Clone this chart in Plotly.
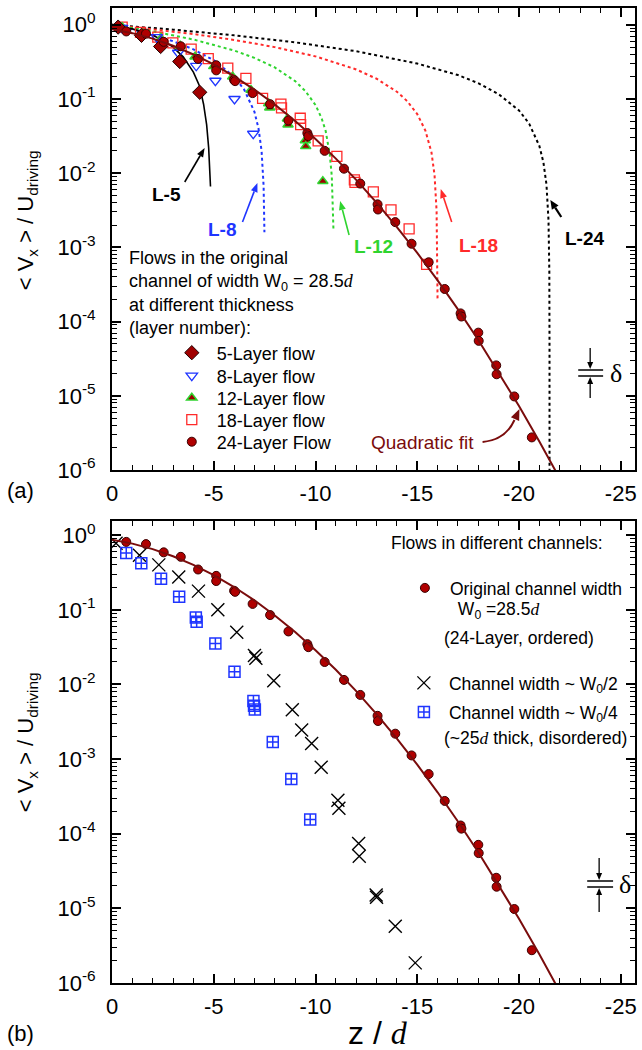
import math
import plotly.graph_objects as go

# ------------------------- data -------------------------
# 24-layer flow, original channel (same points in both panels)
z24 = [-0.70, -1.67, -2.54, -3.38, -4.23, -5.12, -5.12, -6.00, -6.05, -6.91, -7.77, -8.67,
       -9.60, -9.65, -10.45, -11.40, -12.20, -13.05, -13.07, -13.92, -14.72, -15.56, -16.35,
       -17.13, -17.17, -18.00, -18.02, -18.88, -18.90, -19.77, -20.63]
v24 = [0.813, 0.759, 0.589, 0.513, 0.347, 0.285, 0.243, 0.180, 0.174, 0.120, 0.0851, 0.0513,
       0.0347, 0.0316, 0.0200, 0.0115, 0.00724, 0.00380, 0.00324, 0.00219, 0.00112, 6.3e-4,
       2.75e-4, 1.29e-4, 1.17e-4, 7.1e-5, 5.5e-5, 2.57e-5, 1.95e-5, 9.8e-6, 2.75e-6]

# quadratic fit curve (sampled along the drawn line)
z_fit = [0, -1, -2, -3, -4, -5, -6, -7, -8, -9, -10, -11, -12, -13, -14, -15, -16, -17, -18,
         -19, -20, -21, -22]
v_fit = [0.871, 0.771, 0.650, 0.522, 0.400, 0.292, 0.202, 0.134, 0.0841, 0.0505, 0.0288,
         0.0157, 0.00813, 0.00401, 0.00188, 8.43e-4, 3.59e-4, 1.46e-4, 5.64e-5, 2.07e-5,
         7.28e-6, 2.43e-6, 7.7e-7]

# 5-layer flow
z5 = [-0.30, -1.45, -2.39, -3.33, -4.31]
v5 = [0.93, 0.72, 0.51, 0.32, 0.123]
# 8-layer flow
z8 = [-0.50, -2.20, -3.25, -4.14, -5.08, -6.02, -6.94]
v8 = [0.91, 0.68, 0.42, 0.28, 0.176, 0.100, 0.034]
# 12-layer flow
z12 = [-0.50, -1.45, -2.40, -3.35, -4.08, -5.00, -5.93, -6.83, -7.70, -7.75, -8.62, -8.65,
       -9.50, -9.52, -10.36]
v12 = [0.93, 0.76, 0.65, 0.52, 0.37, 0.275, 0.20, 0.132, 0.087, 0.076, 0.054, 0.045,
       0.0275, 0.023, 0.0078]
# 18-layer flow
z18 = [-0.50, -1.40, -2.25, -2.99, -3.89, -4.73, -5.69, -6.58, -7.40, -8.30, -8.33, -9.25,
       -9.27, -10.13, -11.05, -11.91, -11.94, -12.84, -13.71, -14.60, -15.46]
v18 = [0.93, 0.79, 0.68, 0.57, 0.47, 0.35, 0.26, 0.19, 0.102, 0.085, 0.076, 0.055, 0.045,
       0.0272, 0.0168, 0.0081, 0.0075, 0.0056, 0.0032, 0.00178, 0.00059]

# model curves L-5 ... L-24
zL5 = [0, -1, -2, -2.5, -3, -3.5, -4, -4.3, -4.5, -4.65, -4.75, -4.8, -4.84]
vL5 = [0.95, 0.88, 0.72, 0.62, 0.50, 0.37, 0.23, 0.15, 0.085, 0.045, 0.022, 0.011, 0.0066]
zL8 = [0, -1, -2, -3, -4, -5, -6, -6.5, -7, -7.2, -7.35, -7.45, -7.49]
vL8 = [1.0, 0.867, 0.733, 0.60, 0.467, 0.333, 0.20, 0.133, 0.067, 0.04, 0.02, 0.0067, 0.0016]
zL12 = [0, -2, -4, -6, -7, -8, -9, -9.5, -10, -10.3, -10.5, -10.7, -10.8, -10.88]
vL12 = [1.0, 0.817, 0.633, 0.450, 0.358, 0.266, 0.174, 0.128, 0.083, 0.055, 0.037, 0.018,
        0.0092, 0.0018]
zL18 = [0, -2, -4, -6, -8, -10, -12, -13, -14, -14.5, -15, -15.4, -15.7, -15.85, -15.95,
        -15.997]
vL18 = [1.0, 0.875, 0.75, 0.625, 0.5, 0.375, 0.25, 0.1875, 0.125, 0.094, 0.0625, 0.0375,
        0.019, 0.0094, 0.0031, 0.0002]
zL24 = [0, -3, -6, -9, -12, -15, -17, -18, -19, -20, -20.5, -21, -21.2, -21.35, -21.45,
        -21.49, -21.499, -21.4999, -21.49999]
vL24 = [1.0, 0.86, 0.72, 0.58, 0.44, 0.30, 0.21, 0.163, 0.116, 0.070, 0.0465, 0.0233, 0.014,
        0.007, 0.0023, 4.7e-4, 4.7e-5, 4.7e-6, 5e-7]

# channel width ~ W0/2 (crosses)
z_half = [-0.20, -1.35, -2.30, -3.28, -4.25, -5.20, -6.13, -7.00, -7.07, -7.95, -8.86, -9.32,
          -9.81, -10.28, -11.10, -11.15, -12.12, -12.15, -12.98, -13.00, -13.92, -14.90]
v_half = [0.78, 0.54, 0.40, 0.275, 0.178, 0.100, 0.050, 0.0245, 0.0224, 0.0112, 0.00457,
          0.00245, 0.00162, 0.00078, 0.00028, 0.00022, 7.4e-5, 5.0e-5, 1.51e-5, 1.41e-5,
          5.75e-6, 1.86e-6]
# channel width ~ W0/4 (boxed crosses)
z_quart = [-0.70, -1.44, -2.41, -3.30, -4.12, -4.16, -5.08, -6.02, -6.95, -6.98, -7.02,
           -7.90, -8.81, -9.74]
v_quart = [0.575, 0.42, 0.26, 0.15, 0.079, 0.069, 0.0355, 0.0148, 0.0060, 0.0052, 0.0046,
           0.0017, 0.00054, 0.000155]

x_tickvals = [0, -5, -10, -15, -20, -25]
x_ticktext = ["0", "-5", "-10", "-15", "-20", "-25"]
y_exponents = [0, -1, -2, -3, -4, -5, -6]

# ------------------------- styling / layout helpers -------------------------
W, H = 642, 1050
ML, MR, MT, MB = 112, 5, 8, 67
PW, PH = W - ML - MR, H - MT - MB


def PX(px):
    return (px - ML) / PW


def PY(py):
    return (H - MB - py) / PH


FONT = "Liberation Sans, Arial, sans-serif"
SERIF = "Liberation Serif"
DARKRED = "#b00000"
FITCOL = "#7a0c0c"
BLUE = "#1f35ff"
GREEN = "#2fd42f"
RED = "#ff2a2a"

fig = go.Figure()

# ---- top panel ----
curves = [(zL24, vL24, "black", "dot", 2), (zL18, vL18, RED, "dot", 2),
          (zL12, vL12, GREEN, "dot", 2), (zL8, vL8, BLUE, "dot", 2),
          (zL5, vL5, "black", "solid", 1.6)]
for zz, vv, c, d, w in curves:
    fig.add_trace(go.Scatter(x=zz, y=vv, mode="lines", line=dict(color=c, dash=d, width=w),
                             showlegend=False, xaxis="x", yaxis="y", hoverinfo="skip"))

fig.add_trace(go.Scatter(x=z18, y=v18, mode="markers", name="18-Layer flow", legend="legend4",
                         marker=dict(symbol="square-open", size=10, color=RED,
                                     line=dict(width=1.3, color=RED)), xaxis="x", yaxis="y"))
fig.add_trace(go.Scatter(x=z12, y=v12, mode="markers", name="12-Layer flow", legend="legend3",
                         marker=dict(symbol="triangle-up", size=9, color="#a00000",
                                     line=dict(width=1.5, color=GREEN)), xaxis="x", yaxis="y"))
fig.add_trace(go.Scatter(x=z8, y=v8, mode="markers", name="8-Layer flow", legend="legend2",
                         marker=dict(symbol="triangle-down-open", size=10, color=BLUE,
                                     line=dict(width=1.3, color=BLUE)), xaxis="x", yaxis="y"))
fig.add_trace(go.Scatter(x=z5, y=v5, mode="markers", name="5-Layer flow", legend="legend",
                         marker=dict(symbol="diamond", size=11, color="#a00000",
                                     line=dict(width=1, color="#200000")), xaxis="x", yaxis="y"))
fig.add_trace(go.Scatter(x=z24, y=v24, mode="markers", name="24-Layer Flow", legend="legend5",
                         marker=dict(symbol="circle", size=9, color=DARKRED,
                                     line=dict(width=1, color="#3a0000")), xaxis="x", yaxis="y"))
fig.add_trace(go.Scatter(x=z_fit, y=v_fit, mode="lines", line=dict(color=FITCOL, width=2),
                         showlegend=False, xaxis="x", yaxis="y", hoverinfo="skip"))

# ---- bottom panel ----
fig.add_trace(go.Scatter(x=z_half, y=v_half, mode="markers", name="Channel width ~ W<sub>0</sub>/2",
                         legend="legend7",
                         marker=dict(symbol="x-thin-open", size=13, color="black",
                                     line=dict(width=1.4, color="black")), xaxis="x2", yaxis="y2"))
fig.add_trace(go.Scatter(x=z_quart, y=v_quart, mode="markers", name="Channel width ~ W<sub>0</sub>/4",
                         legend="legend8",
                         marker=dict(symbol="square-cross-open", size=11, color=BLUE,
                                     line=dict(width=1.5, color=BLUE)), xaxis="x2", yaxis="y2"))
fig.add_trace(go.Scatter(x=z24, y=v24, mode="markers", name="Original channel width",
                         legend="legend6",
                         marker=dict(symbol="circle", size=9, color=DARKRED,
                                     line=dict(width=1, color="#3a0000")), xaxis="x2", yaxis="y2"))
fig.add_trace(go.Scatter(x=z_fit, y=v_fit, mode="lines", line=dict(color=FITCOL, width=2),
                         showlegend=False, xaxis="x2", yaxis="y2", hoverinfo="skip"))

# ---- axes ----
minor_y = [k * 10.0 ** e for e in range(-6, 1) for k in range(2, 10)]


def xaxis_cfg(anchor):
    return dict(anchor=anchor, range=[0, -25.7], tickmode="array", tickvals=x_tickvals,
                ticktext=x_ticktext, ticks="inside", ticklen=9, tickwidth=1.5, tickcolor="black",
                mirror="allticks", showline=True, linewidth=2, linecolor="black",
                showgrid=False, zeroline=False, ticklabelstandoff=3,
                tickfont=dict(size=22, color="black"),
                minor=dict(ticks="inside", ticklen=5, tickwidth=1, tickcolor="black", dtick=1,
                           tick0=0, showgrid=False))


def yaxis_cfg(anchor, dom, top):
    return dict(anchor=anchor, domain=dom, type="log", range=[-6, top], tickmode="array",
                tickvals=[10.0 ** e for e in y_exponents],
                ticktext=["10<sup>%d</sup>" % e for e in y_exponents],
                ticks="inside", ticklen=9, tickwidth=1.5, tickcolor="black",
                mirror="allticks", showline=True, linewidth=2, linecolor="black",
                showgrid=False, zeroline=False, ticklabelstandoff=10,
                tickfont=dict(size=22, color="black"),
                minor=dict(ticks="inside", ticklen=5, tickwidth=1, tickcolor="black",
                           tickmode="array", tickvals=minor_y, showgrid=False))


top_dom = [PY(470), 1.0]
bot_dom = [0.0, PY(521)]

annotations = []
shapes = []


def text(px, py, s, size=18, color="black", xanchor="center", yanchor="middle", family=FONT,
         angle=0, align="left"):
    annotations.append(dict(x=PX(px), y=PY(py), xref="paper", yref="paper", text=s,
                            showarrow=False, xanchor=xanchor, yanchor=yanchor, align=align,
                            textangle=angle, font=dict(size=size, color=color, family=family)))


def line(p0, p1, color="black", width=1.5):
    shapes.append(dict(type="line", xref="paper", yref="paper", x0=PX(p0[0]), y0=PY(p0[1]),
                       x1=PX(p1[0]), y1=PY(p1[1]), line=dict(color=color, width=width)))


def head(tail, tip, color, hl=9.0, hw=7.0):
    dx, dy = tip[0] - tail[0], tip[1] - tail[1]
    L = math.hypot(dx, dy)
    ux, uy = dx / L, dy / L
    bx, by = tip[0] - ux * hl, tip[1] - uy * hl
    nx, ny = -uy * hw / 2, ux * hw / 2
    pts = [tip, (bx + nx, by + ny), (bx - nx, by - ny)]
    path = "M " + " L ".join("%f,%f" % (PX(a), PY(b)) for a, b in pts) + " Z"
    shapes.append(dict(type="path", xref="paper", yref="paper", path=path, fillcolor=color,
                       line=dict(width=0, color=color)))
    return (bx, by)


def arrow(tail, tip, color, width=1.6, hl=9.0, hw=7.0):
    base = head(tail, tip, color, hl, hw)
    line(tail, base, color, width)


DI = "<span style=\"font-family:Liberation Serif\"><i>d</i></span>"

# curve labels (top)
text(167, 194, "<b>L-5</b>", 19, "black")
arrow((185, 182), (205, 148), "black")
text(223, 229, "<b>L-8</b>", 19, BLUE)
arrow((243, 222), (258, 183), BLUE)
text(375, 247, "<b>L-12</b>", 19, GREEN)
arrow((350, 235), (341, 201), GREEN)
text(480, 245, "<b>L-18</b>", 19, RED)
arrow((453, 222), (442, 189), RED)
text(587, 238, "<b>L-24</b>", 19, "black")
arrow((563, 217), (552, 200), "black", width=2.2, hl=9, hw=8)

# quadratic fit label with curved arrow
text(424, 443, "Quadratic fit", 19, FITCOL)
p = [(484, 442), (507, 440), (516, 420)]
shapes.append(dict(type="path", xref="paper", yref="paper",
                   path="M %f,%f Q %f,%f %f,%f" % (PX(p[0][0]), PY(p[0][1]), PX(p[1][0]),
                                                   PY(p[1][1]), PX(p[2][0]), PY(p[2][1])),
                   line=dict(color=FITCOL, width=2)))
head((514, 425), (521, 409), FITCOL, hl=11, hw=9)

# legend title blocks
text(127, 246, "Flows in the original<br>channel of width W<sub>0</sub> = 28.5" + DI +
     "<br>at different thickness<br>(layer number):", 18, xanchor="left", yanchor="top")
text(390, 543, "Flows in different channels:", 17.5, xanchor="left")
text(452, 610, " W<sub>0</sub> =28.5" + DI, 17.5, xanchor="left")
text(443, 638, "(24-Layer, ordered)", 17.5, xanchor="left")
text(443, 738, "(~25" + DI + " thick, disordered)", 17.5, xanchor="left")

# delta markers
for (xa, xb, xm, y1, y2, ytop, ybot, xd) in [(580, 605, 592, 370, 376, 348, 398, 618),
                                             (589, 615, 601, 881, 887, 858, 912, 627)]:
    line((xa, y1), (xb, y1))
    line((xa, y2), (xb, y2))
    arrow((xm, ytop), (xm, y1 - 1), "black", width=1.3, hl=7, hw=6)
    arrow((xm, ybot), (xm, y2 + 1), "black", width=1.3, hl=7, hw=6)
    text(xd, (y1 + y2) / 2, "δ", 26, family=SERIF)

# panel labels and axis titles
text(20, 490, "(a)", 22)
text(20, 1033, "(b)", 22)
text(379, 1033, "z / " + DI, 32)
ytitle = "< V<sub>x</sub> > / U<sub>driving</sub>"
text(27, 220, ytitle, 22, angle=-90)
text(27, 742, ytitle, 22, angle=-90)


def legend_cfg(sym_x, row_y, size=18):
    return dict(x=PX(sym_x - 25), y=PY(row_y), xref="paper", yref="paper", xanchor="left",
                yanchor="middle", bgcolor="rgba(0,0,0,0)", borderwidth=0, itemwidth=40,
                font=dict(size=size, color="black", family=FONT), tracegroupgap=0)


layout = dict(
    width=W, height=H, margin=dict(l=ML, r=MR, t=MT, b=MB),
    paper_bgcolor="white", plot_bgcolor="white",
    font=dict(family=FONT, color="black"),
    xaxis=xaxis_cfg("y"), yaxis=yaxis_cfg("x", top_dom, 0.226),
    xaxis2=xaxis_cfg("y2"), yaxis2=yaxis_cfg("x2", bot_dom, 0.19),
    annotations=annotations, shapes=shapes, showlegend=True,
    legend=legend_cfg(192, 353), legend2=legend_cfg(192, 376), legend3=legend_cfg(192, 398),
    legend4=legend_cfg(192, 420), legend5=legend_cfg(192, 442),
    legend6=legend_cfg(426, 588, 17.5), legend7=legend_cfg(425, 683, 17.5),
    legend8=legend_cfg(425, 712, 17.5),
)
fig.update_layout(**layout)
fig.write_html("out.html")
